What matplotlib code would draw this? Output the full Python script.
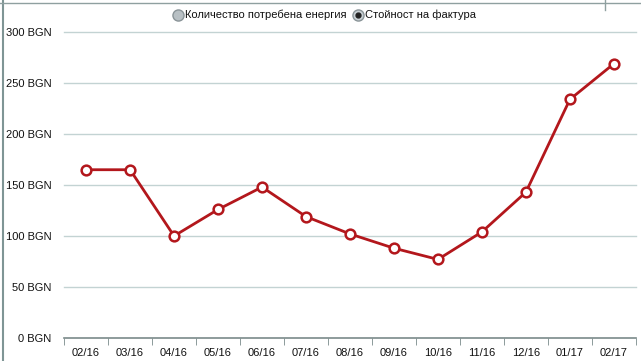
import matplotlib
matplotlib.use('Agg')
import matplotlib.pyplot as plt
from matplotlib.lines import Line2D

plt.rcParams['font.family'] = ['Liberation Sans', 'DejaVu Sans']

months = ['02/16', '03/16', '04/16', '05/16', '06/16', '07/16', '08/16',
          '09/16', '10/16', '11/16', '12/16', '01/17', '02/17']
cost = [165, 165, 100, 126, 148, 119, 102, 88, 77, 104, 143, 234, 269]
yticks = [0, 50, 100, 150, 200, 250, 300]
legend_labels = ['Количество потребена енергия', 'Стойност на фактура']

red = '#b3171c'
grid_c = '#c3d3d3'
fs = 8

fig = plt.figure(figsize=(6.41, 3.61), dpi=100)
ax = fig.add_axes([0.1, 0.064, 0.892, 0.847])

x = range(len(months))
ax.plot(x, cost, color=red, lw=2, marker='o', ms=7, mfc='white',
        mec=red, mew=1.8, zorder=3)

ax.set_xlim(-0.5, len(months) - 0.5)
ax.set_ylim(0, 300)
ax.set_yticks(yticks)
ax.set_yticklabels(['%d BGN' % v for v in yticks], fontsize=fs, color='#111111')
ax.set_xticks(list(x))
ax.set_xticklabels(months, fontsize=fs, color='#111111')
ax.tick_params(axis='y', length=0, pad=9)
ax.tick_params(axis='x', which='major', length=0, pad=7)
ax.set_xticks([i - 0.5 for i in range(len(months) + 1)], minor=True)
ax.tick_params(axis='x', which='minor', length=5, color='#7a8a8a', direction='out')

for v in yticks[1:]:
    ax.axhline(v, color=grid_c, lw=1, zorder=1, clip_on=False)
for s in ['top', 'right', 'left']:
    ax.spines[s].set_visible(False)
ax.spines['bottom'].set_color('#7a8a8a')
ax.spines['bottom'].set_linewidth(1.2)

# page frame pieces
fig.add_artist(Line2D([3 / 641, 3 / 641], [0, 1], color='#7f9595', lw=1.5))
fig.add_artist(Line2D([0, 1], [1 - 3 / 361, 1 - 3 / 361], color='#8fa0a0', lw=1))
fig.add_artist(Line2D([605 / 641, 605 / 641], [1 - 10 / 361, 1], color='#8fa0a0', lw=1))

# radio button legend
ly = 1 - 15 / 361
fig.add_artist(Line2D([178 / 641], [ly], marker='o', ms=8, mfc='#b8c0c4',
                      mec='#8a9498', lw=0))
fig.text(185 / 641, ly, legend_labels[0], fontsize=fs, va='center', ha='left', color='#111111')
fig.add_artist(Line2D([358 / 641], [ly], marker='o', ms=8, mfc='#c8d0d4',
                      mec='#8a9498', lw=0))
fig.add_artist(Line2D([358 / 641], [ly], marker='o', ms=3.5, mfc='#222222',
                      mec='#222222', lw=0))
fig.text(365 / 641, ly, legend_labels[1], fontsize=fs, va='center', ha='left', color='#111111')

fig.savefig('out.png', dpi=100)
